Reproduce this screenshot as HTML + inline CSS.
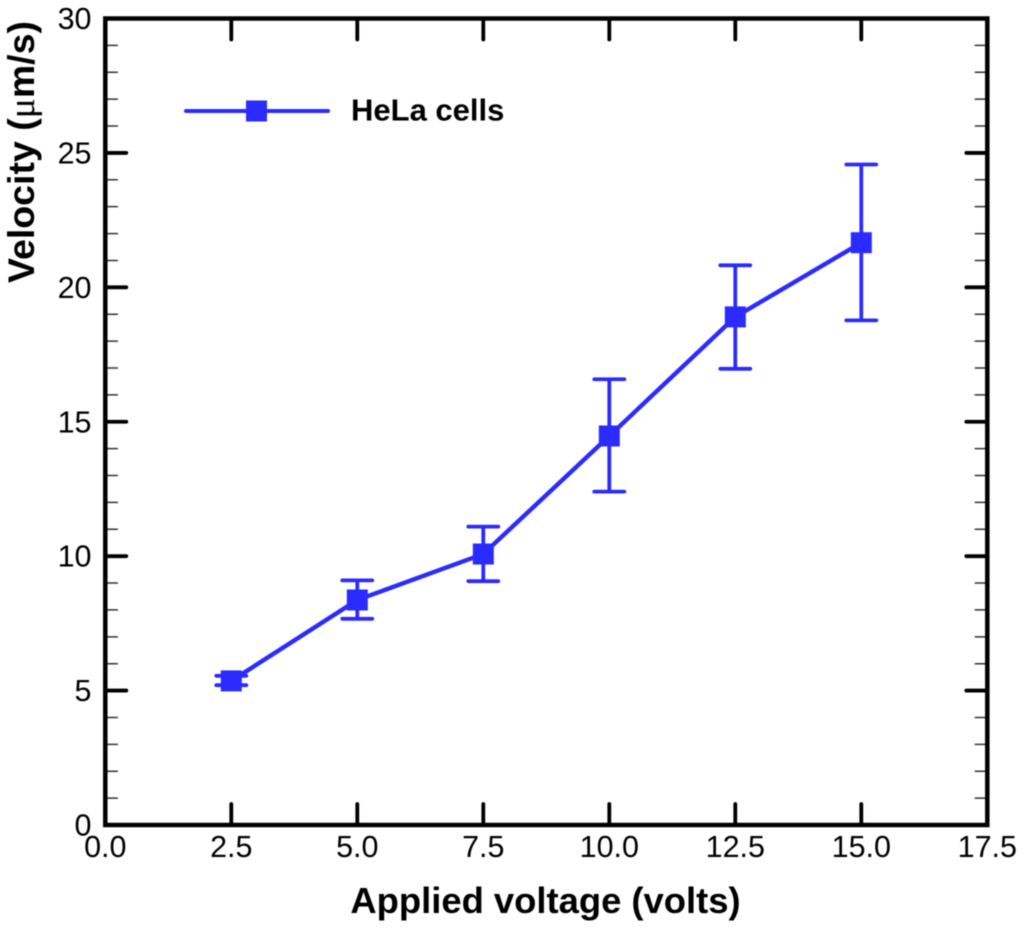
<!DOCTYPE html>
<html>
<head>
<meta charset="utf-8">
<title>HeLa cell velocity vs applied voltage</title>
<style>
html,body{margin:0;padding:0;background:#fff;}
svg{display:block;filter:blur(0.4px);}
text{font-family:"Liberation Sans",sans-serif;fill:#000;}
.tick-label{font-size:30.5px;}
.x-title{font-size:36.4px;font-weight:bold;}
.y-title{font-size:37.5px;font-weight:bold;}
.legend-text{font-size:31px;font-weight:bold;}
</style>
</head>
<body>
<svg id="chart" xmlns="http://www.w3.org/2000/svg" width="1024" height="929" viewBox="0 0 1024 929"></svg>
<script>
const voltages = [2.5, 5.0, 7.5, 10.0, 12.5, 15.0];
const velocity = [5.36, 8.37, 10.08, 14.47, 18.9, 21.66];
const errorUpper = [5.55, 9.1, 11.1, 16.58, 20.82, 24.57];
const errorLower = [5.2, 7.67, 9.07, 12.4, 16.97, 18.77];
const xTickValues = [0, 2.5, 5, 7.5, 10, 12.5, 15, 17.5];
const xTickLabels = ['0.0', '2.5', '5.0', '7.5', '10.0', '12.5', '15.0', '17.5'];
const yTickValues = [0, 5, 10, 15, 20, 25, 30];
const yTickLabels = ['0', '5', '10', '15', '20', '25', '30'];
const yMinorValues = [1, 2, 3, 4, 6, 7, 8, 9, 11, 12, 13, 14, 16, 17, 18, 19, 21, 22, 23, 24, 26, 27, 28, 29];
const seriesName = 'HeLa cells';

const svg = document.getElementById('chart');
const NS = 'http://www.w3.org/2000/svg';
const BLUE = '#2b2bff';
const plotLeft = 105.3, plotRight = 987.3, plotTop = 18.5, plotBottom = 825;
const xMax = 17.5, yMax = 30;
function xScale(v) { return plotLeft + (v / xMax) * (plotRight - plotLeft); }
function yScale(v) { return plotBottom - (v / yMax) * (plotBottom - plotTop); }

function make(tag, attrs, parent) {
  const el = document.createElementNS(NS, tag);
  for (const k in attrs) el.setAttribute(k, attrs[k]);
  (parent || svg).appendChild(el);
  return el;
}
function tickLine(x1, y1, x2, y2, w, color) {
  return make('line', {x1: x1, y1: y1, x2: x2, y2: y2, stroke: color, 'stroke-width': w, 'stroke-linecap': 'round'});
}

// minor y ticks, both sides
yMinorValues.forEach(function (v) {
  const y = yScale(v);
  const a = tickLine(plotLeft, y, plotLeft + 12, y, 1.5, '#333');
  
  
  const b = tickLine(plotRight, y, plotRight - 12, y, 1.5, '#333');
  
  
});

// major y ticks and labels
yTickValues.forEach(function (v, i) {
  const y = yScale(v);
  if (v > 0 && v < yMax) {
    const a = tickLine(plotLeft, y, plotLeft + 21, y, 3.8, '#000');
    
    
    const b = tickLine(plotRight, y, plotRight - 21, y, 3.8, '#000');
    
    
  }
  const t = make('text', {x: 91.5, y: y + 10.5, 'text-anchor': 'end', 'class': 'tick-label'});
  
  
  t.textContent = yTickLabels[i];
});

// major x ticks and labels
xTickValues.forEach(function (v, i) {
  const x = xScale(v);
  if (v > 0 && v < xMax) {
    const a = tickLine(x, plotBottom, x, plotBottom - 21, 3.8, '#000');
    
    
    const b = tickLine(x, plotTop, x, plotTop + 21, 3.8, '#000');
    
    
  }
  const t = make('text', {x: x, y: 857, 'text-anchor': 'middle', 'class': 'tick-label'});
  
  
  t.textContent = xTickLabels[i];
});

// plot frame
const frame = make('rect', {x: plotLeft, y: plotTop, width: plotRight - plotLeft, height: plotBottom - plotTop, fill: 'none', stroke: '#000', 'stroke-width': 4.5});



// series line
const seriesLine = make('polyline', {
  points: voltages.map(function (v, i) { return xScale(v) + ',' + yScale(velocity[i]); }).join(' '),
  fill: 'none', stroke: BLUE, 'stroke-width': 4.4
});



// error bars
voltages.forEach(function (v, i) {
  const x = xScale(v), yu = yScale(errorUpper[i]), yl = yScale(errorLower[i]);
  const stem = make('line', {x1: x, y1: yu, x2: x, y2: yl, stroke: BLUE, 'stroke-width': 3.8});
  
  
  const capU = make('line', {x1: x - 15, y1: yu, x2: x + 15, y2: yu, stroke: BLUE, 'stroke-width': 3.8, 'stroke-linecap': 'round'});
  
  
  const capL = make('line', {x1: x - 15, y1: yl, x2: x + 15, y2: yl, stroke: BLUE, 'stroke-width': 3.8, 'stroke-linecap': 'round'});
  
  
});

// markers
voltages.forEach(function (v, i) {
  const x = xScale(v), y = yScale(velocity[i]);
  const m = make('rect', {x: x - 10.5, y: y - 10.5, width: 21, height: 21, fill: BLUE});
  
  
});

// legend
const legendLine = make('line', {x1: 186, y1: 111, x2: 328, y2: 111, stroke: BLUE, 'stroke-width': 4, 'stroke-linecap': 'round'});


const legendMarker = make('rect', {x: 246, y: 100.5, width: 21, height: 21, fill: BLUE});


const legendText = make('text', {x: 351, y: 120.5, 'class': 'legend-text'});


legendText.textContent = seriesName;

// axis titles
const xTitle = make('text', {x: 545.5, y: 913, 'text-anchor': 'middle', 'class': 'x-title'});


xTitle.textContent = 'Applied voltage (volts)';

const yTitle = make('text', {x: 0, y: 0, 'text-anchor': 'middle', 'class': 'y-title', transform: 'translate(34,152) rotate(-90)'});


yTitle.textContent = 'Velocity (';
const mu = make('tspan', {style: 'font-family:"Liberation Serif",serif;font-weight:normal;'}, yTitle);


mu.textContent = 'μ';
const rest = make('tspan', {}, yTitle);


rest.textContent = 'm/s)';
</script>
</body>
</html>
